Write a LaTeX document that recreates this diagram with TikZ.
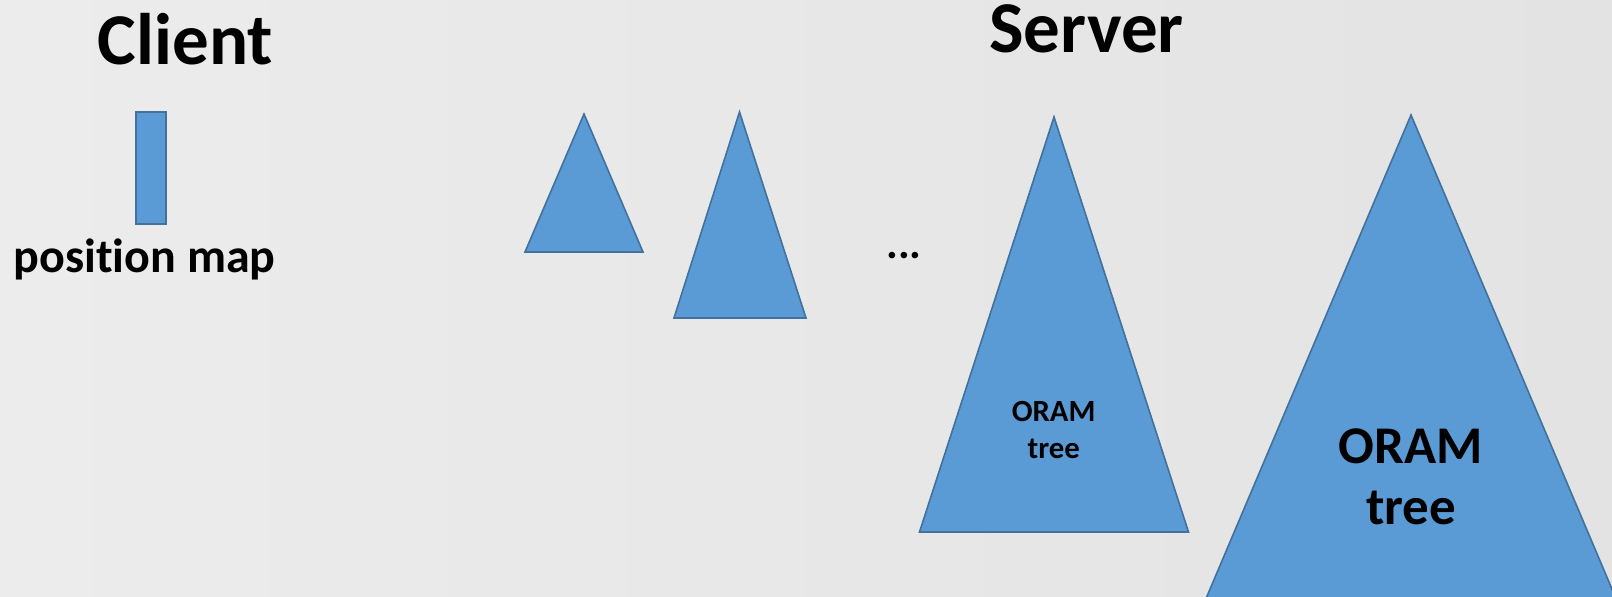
\documentclass[tikz,border=0pt]{standalone}
\usepackage{fontspec}
\setmainfont[Ligatures=NoCommon]{Carlito}
\usetikzlibrary{positioning}
\definecolor{oramblue}{HTML}{5B9BD5}
\definecolor{oramedge}{HTML}{41719C}
\definecolor{slideleft}{HTML}{ECECEC}
\definecolor{slideright}{HTML}{E3E3E3}

\begin{document}
\begin{tikzpicture}[
  x=0.5pt, y=-0.5pt,
  tree/.style={draw=oramedge, fill=oramblue, line width=0.8pt, line join=miter},
  mapbox/.style={draw=oramedge, fill=oramblue, line width=0.9pt,
                 minimum width=15pt, minimum height=56pt, inner sep=0pt},
  heading/.style={font=\bfseries\fontsize{36.5}{44}\selectfont, anchor=base, inner sep=0pt},
  caption/.style={font=\bfseries\fontsize{24}{29}\selectfont, anchor=base, inner sep=0pt},
  treelabel/.style={align=center, inner sep=0pt}
]
% slide background
\useasboundingbox (0,0) rectangle (1612,597);
\shade[left color=slideleft, right color=slideright] (0,0) rectangle (1612,597);

% client side
\node[heading] (client) at (185.5,65) {Client};
\node[mapbox] (posmap) at (151,168) {};
\node[caption] (posmaplabel) at (144.5,273) {position map};

% server side
\node[heading] (server) at (1086.5,53) {Server};
\draw[tree] (584,114) -- (643,252) -- (525,252) -- cycle;
\draw[tree] (739.5,112) -- (806,318) -- (674,318) -- cycle;
\node[font=\bfseries\fontsize{22}{26}\selectfont, anchor=base, inner sep=0pt] (dots) at (904,259) {...};
\draw[tree] (1054,117) -- (1188.5,532) -- (919.5,532) -- cycle;
\begin{scope}
  \clip (0,0) rectangle (1612,597);
  \draw[tree] (1411,115) -- (1659,700) -- (1163,700) -- cycle;
\end{scope}

% tree labels
\node[treelabel, font=\bfseries\fontsize{15.4}{18.5}\selectfont] (smalltree) at (1053.7,430) {ORAM\\tree};
\node[treelabel, font=\bfseries\fontsize{26.5}{30.5}\selectfont] (bigtree) at (1411,477) {ORAM\\tree};
\end{tikzpicture}
\end{document}
